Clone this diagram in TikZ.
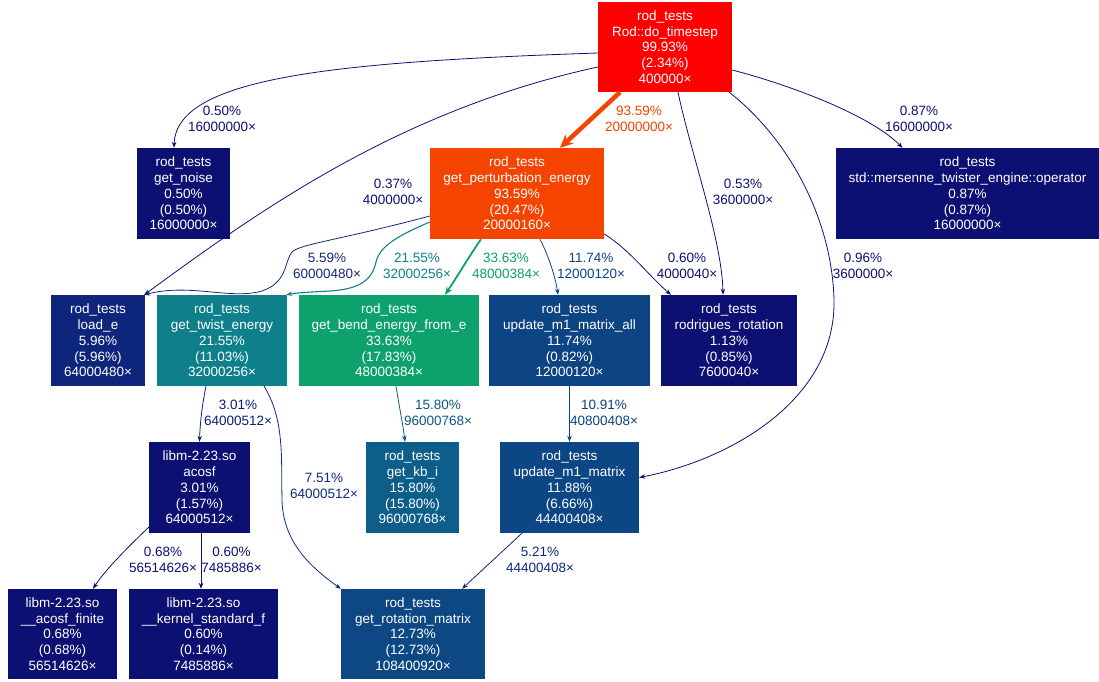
\documentclass[tikz,border=0pt]{standalone}
\usepackage{fontspec}
\setmainfont{Liberation Sans}
\usetikzlibrary{arrows.meta}

\definecolor{hotred}{RGB}{255,0,0}
\definecolor{warmred}{RGB}{245,67,0}
\definecolor{cold}{RGB}{13,16,115}
\definecolor{loadc}{RGB}{13,37,122}
\definecolor{twistc}{RGB}{14,128,140}
\definecolor{bendc}{RGB}{13,161,107}
\definecolor{mallc}{RGB}{13,68,132}
\definecolor{mtxc}{RGB}{13,70,132}
\definecolor{kbc}{RGB}{13,94,138}
\definecolor{rotc}{RGB}{13,72,132}
\definecolor{e559}{RGB}{20,42,120}
\definecolor{e301}{RGB}{13,28,118}
\definecolor{e751}{RGB}{13,45,124}
\definecolor{e1580}{RGB}{13,88,136}
\definecolor{e1091}{RGB}{13,66,131}
\definecolor{e521}{RGB}{13,40,122}

\begin{document}
\begin{tikzpicture}[x=1pt, y=-1pt,
    func/.style={rectangle, fill=#1, text=white, align=center, inner sep=0pt,
      minimum height=91pt, font=\fontsize{13.5}{15.75}\selectfont},
    lbl/.style={text=#1, align=center, inner sep=0pt,
      font=\fontsize{13.5}{15.75}\selectfont},
    call/.style={draw=#1, line width=0.8pt, -{Stealth[length=6pt, width=4.5pt]}}]
  \useasboundingbox (0,0) rectangle (1099,681);

  % top
  \node[func=hotred, minimum width=134pt, minimum height=90pt] (ts) at (665,47)
    {rod\_tests\\Rod::do\_timestep\\99.93\%\\(2.34\%)\\400000×};

  % row 1
  \node[func=cold, minimum width=93pt] (noise) at (183.5,193.5)
    {rod\_tests\\get\_noise\\0.50\%\\(0.50\%)\\16000000×};
  \node[func=warmred, minimum width=174pt] (pe) at (517,193.5)
    {rod\_tests\\get\_perturbation\_energy\\93.59\%\\(20.47\%)\\20000160×};
  \node[func=cold, minimum width=263pt] (mt) at (967.5,193.5)
    {rod\_tests\\std::mersenne\_twister\_engine::operator\\0.87\%\\(0.87\%)\\16000000×};

  % row 2
  \node[func=loadc, minimum width=94pt] (load) at (98,340.5)
    {rod\_tests\\load\_e\\5.96\%\\(5.96\%)\\64000480×};
  \node[func=twistc, minimum width=130pt] (twist) at (222,340.5)
    {rod\_tests\\get\_twist\_energy\\21.55\%\\(11.03\%)\\32000256×};
  \node[func=bendc, minimum width=180pt] (bend) at (389,340.5)
    {rod\_tests\\get\_bend\_energy\_from\_e\\33.63\%\\(17.83\%)\\48000384×};
  \node[func=mallc, minimum width=161pt] (m1all) at (569.5,340.5)
    {rod\_tests\\update\_m1\_matrix\_all\\11.74\%\\(0.82\%)\\12000120×};
  \node[func=cold, minimum width=136pt] (rod) at (729,340.5)
    {rod\_tests\\rodrigues\_rotation\\1.13\%\\(0.85\%)\\7600040×};

  % row 3
  \node[func=cold, minimum width=101pt] (acosf) at (199.5,487.5)
    {libm-2.23.so\\acosf\\3.01\%\\(1.57\%)\\64000512×};
  \node[func=kbc, minimum width=93pt] (kb) at (412.5,487.5)
    {rod\_tests\\get\_kb\_i\\15.80\%\\(15.80\%)\\96000768×};
  \node[func=mtxc, minimum width=139pt] (m1) at (569.5,487.5)
    {rod\_tests\\update\_m1\_matrix\\11.88\%\\(6.66\%)\\44400408×};

  % row 4
  \node[func=cold, minimum width=109pt, minimum height=90pt] (fin) at (62.5,634)
    {libm-2.23.so\\\_\_acosf\_finite\\0.68\%\\(0.68\%)\\56514626×};
  \node[func=cold, minimum width=149pt, minimum height=90pt] (ker) at (203.5,634)
    {libm-2.23.so\\\_\_kernel\_standard\_f\\0.60\%\\(0.14\%)\\7485886×};
  \node[func=rotc, minimum width=144pt, minimum height=90pt] (rot) at (413,634)
    {rod\_tests\\get\_rotation\_matrix\\12.73\%\\(12.73\%)\\108400920×};

  % calls from do_timestep
  \draw[call=cold] ([yshift=-6pt]ts.west) .. controls (330,62) and (176,78) .. ([xshift=-9.5pt]noise.north);
  \draw[call=cold] ([yshift=-20pt]ts.west) .. controls (400,110) and (260,210) .. ([xshift=-1pt]load.north east);
  \draw[draw=warmred, line width=4.5pt, -{Stealth[length=13pt, width=12pt]}]
    ([xshift=-45pt]ts.south) -- ([xshift=43pt]pe.north);
  \draw[call=cold] ([xshift=13pt]ts.south) .. controls (690,150) and (722,240) .. ([xshift=-6pt]rod.north);
  \draw[call=cold] ([xshift=-3pt]ts.south east) .. controls (790,140) and (832,220) .. (834,300)
    .. controls (836,400) and (730,460) .. ([yshift=10pt]m1.east);
  \draw[call=cold] ([yshift=-23pt]ts.east) .. controls (790,85) and (870,115) .. ([xshift=-65pt]mt.north);

  % calls from get_perturbation_energy
  \draw[call=e559] ([yshift=-22.5pt]pe.west) .. controls (340,240) and (300,244) .. (292,252)
    .. controls (284,262) and (288,282) .. (262,291) .. controls (230,300) and (190,283) .. ([xshift=-1pt]load.north east);
  \draw[call=twistc, line width=1.1pt] ([yshift=-28.5pt]pe.west) .. controls (400,235) and (380,245) .. (376,262)
    .. controls (372,280) and (360,289) .. (330,291) .. controls (310,292) and (295,293) .. ([xshift=-1pt]twist.north east);
  \draw[draw=bendc, line width=1.8pt, -{Stealth[length=8pt, width=6.5pt]}]
    ([xshift=-36pt]pe.south) .. controls (470,255) and (455,280) .. ([xshift=56pt]bend.north);
  \draw[call=mallc] ([xshift=23pt]pe.south) .. controls (548,255) and (555,275) .. ([xshift=-11.5pt]m1all.north);
  \draw[call=cold] ([yshift=-40.5pt]pe.east) .. controls (630,250) and (648,275) .. ([xshift=-58pt]rod.north);

  % lower calls
  \draw[call=e301] ([xshift=-16pt]twist.south) .. controls (202,405) and (200,425) .. (acosf.north);
  \draw[call=e751] ([xshift=42pt]twist.south) .. controls (285,420) and (281,460) .. (282,500)
    .. controls (283,545) and (315,570) .. (rot.north west);
  \draw[call=e1580] ([xshift=7pt]bend.south) .. controls (399,405) and (403,425) .. ([xshift=-7.5pt]kb.north);
  \draw[call=e1091] (m1all.south) -- (m1.north);
  \draw[call=cold] ([yshift=6pt]acosf.south west) .. controls (130,545) and (105,570) .. ([xshift=30.5pt]fin.north);
  \draw[call=cold] ([xshift=1.5pt]acosf.south) -- ([xshift=-2.5pt]ker.north);
  \draw[call=e521] ([xshift=-47.5pt]m1.south) -- ([xshift=49pt]rot.north);

  % edge labels
  \node[lbl=cold] (lnoise) at (222,119) {0.50\%\\16000000×};
  \node[lbl=cold] (lload) at (393,192) {0.37\%\\4000000×};
  \node[lbl=warmred] (lpe) at (639,119) {93.59\%\\20000000×};
  \node[lbl=cold] (lrod) at (743,192) {0.53\%\\3600000×};
  \node[lbl=cold] (lm1) at (863,266) {0.96\%\\3600000×};
  \node[lbl=cold] (lmt) at (919,119) {0.87\%\\16000000×};
  \node[lbl=e559] (lpeload) at (327,266) {5.59\%\\60000480×};
  \node[lbl=twistc] (ltwist) at (417,266) {21.55\%\\32000256×};
  \node[lbl=bendc] (lbend) at (506,266) {33.63\%\\48000384×};
  \node[lbl=mallc] (lmall) at (591,266) {11.74\%\\12000120×};
  \node[lbl=cold] (lperod) at (687,266) {0.60\%\\4000040×};
  \node[lbl=e301] (lacosf) at (238,413) {3.01\%\\64000512×};
  \node[lbl=e751] (lrot) at (324,486) {7.51\%\\64000512×};
  \node[lbl=e1580] (lkb) at (438,413) {15.80\%\\96000768×};
  \node[lbl=e1091] (lmtx) at (604,413) {10.91\%\\40800408×};
  \node[lbl=cold] (lfin) at (163,560) {0.68\%\\56514626×};
  \node[lbl=cold] (lker) at (231.5,560) {0.60\%\\7485886×};
  \node[lbl=e521] (lm1rot) at (540,560) {5.21\%\\44400408×};
\end{tikzpicture}
\end{document}
